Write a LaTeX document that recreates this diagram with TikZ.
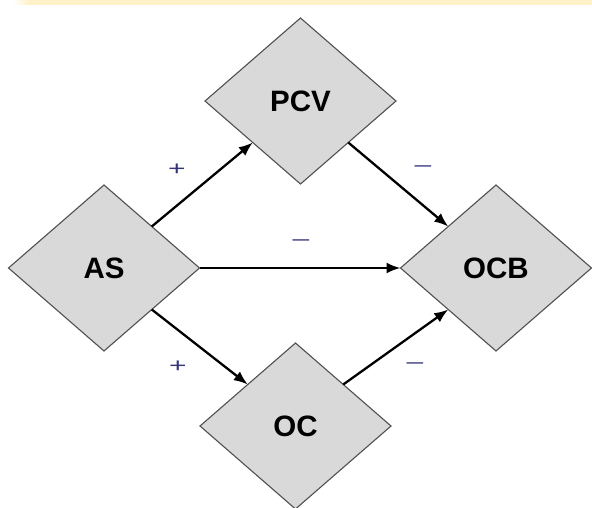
\documentclass[tikz,border=0pt]{standalone}
\usepackage{fontspec}
\setmainfont{Liberation Sans}
\usetikzlibrary{shapes.geometric,arrows.meta}
\definecolor{band}{HTML}{FFF2C8}
\definecolor{dfill}{HTML}{D9D9D9}
\definecolor{dline}{HTML}{505050}
\definecolor{sign}{HTML}{34357A}
\begin{document}
\begin{tikzpicture}[x=1pt,y=-1pt,
  dia/.style={diamond, draw=dline, fill=dfill, line width=1.1pt, inner sep=0pt, outer sep=0pt,
    minimum width=191pt, minimum height=166pt, font=\fontsize{29.5}{31}\selectfont\bfseries},
  conn/.style={-{Latex[length=14pt,width=11pt]}, line width=2.3pt, black},
  sgn/.style={text=sign, font=\fontsize{20}{21}\selectfont, xscale=1.5, transform shape, inner sep=0pt}]
\useasboundingbox (0,0) rectangle (592,508);
\fill[band] (30,0) rectangle (592,5);
\shade[left color=white, right color=band] (12,0) rectangle (30,5);
\node[dia] (as)  at (104,268) {AS};
\node[dia] (pcv) at (300.5,101) {PCV};
\node[dia] (ocb) at (496,268) {OCB};
\node[dia] (oc)  at (295.5,426) {OC};
\draw[conn] (as.north east) -- (pcv.south west);
\draw[conn] (as.east) -- (ocb.west);
\draw[conn] (as.south east) -- (oc.north west);
\draw[conn] (pcv.south east) -- (ocb.north west);
\draw[conn] (oc.north east) -- (ocb.south west);
\node[sgn] (s1) at (177,170) {+};
\node[sgn] (s2) at (178,367) {+};
\node[sgn] (s3) at (423,169) {–};
\node[sgn] (s4) at (301,243) {–};
\node[sgn] (s5) at (415,366) {–};
\end{tikzpicture}
\end{document}
